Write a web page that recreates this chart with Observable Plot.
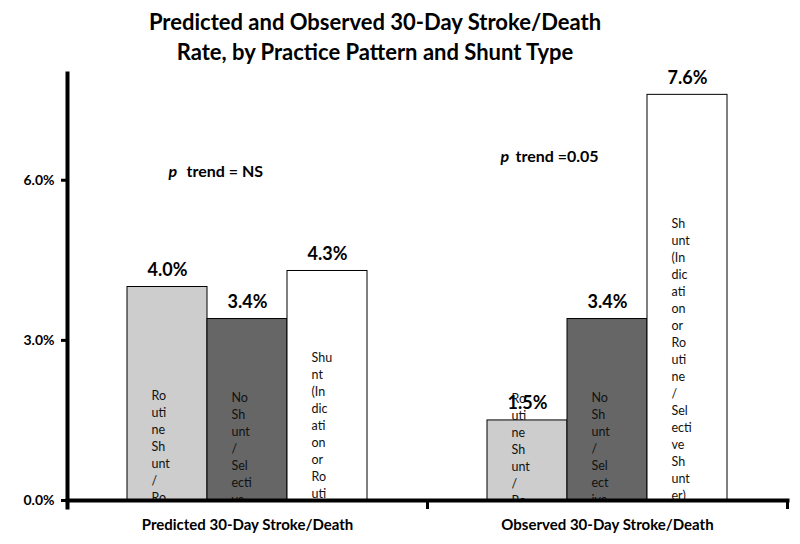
<!DOCTYPE html>
<html>
<head>
<meta charset="utf-8">
<script src="https://cdn.jsdelivr.net/npm/d3@7"></script>
<script src="https://cdn.jsdelivr.net/npm/@observablehq/plot@0.6"></script>
<style>
  body { margin: 0; background: #fff; }
  #title { width: 750px; height: 55px; padding-top: 7px; text-align: center;
           font: bold 22px Lato, sans-serif; line-height: 30px; color: #000; }
</style>
</head>
<body>
<div id="title">Predicted and Observed 30-Day Stroke/Death<br>Rate, by Practice Pattern and Shunt Type</div>
<div id="chart"></div>
<script>
// ---- data ----
const groups = ["Predicted 30-Day Stroke/Death", "Observed 30-Day Stroke/Death"];
const series = [
  "Routine Shunt / Routine Shunter",
  "No Shunt / Selective Shunter",
  "Shunt (Indication or Routine / Selective Shunter)"
];
const predicted = [4.0, 3.4, 4.3];
const observed = [1.5, 3.4, 7.6];
const trendNotes = ["trend = NS", "trend =0.05"];
const yTicks = [0, 3, 6];
// in-bar category labels, wrapped and cut as they appear in the picture
const predictedInside = [
  ["Ro","uti","ne","Sh","unt","/","Ro"],
  ["No","Sh","unt","/","Sel","ecti","ve"],
  ["Shu","nt","(In","dic","ati","on","or","Ro","uti"]
];
const observedInside = [
  ["Ro","uti","ne","Sh","unt","/","Ro"],
  ["No","Sh","unt","/","Sel","ect","ive"],
  ["Sh","unt","(In","dic","ati","on","or","Ro","uti","ne","/","Sel","ecti","ve","Sh","unt","er)"]
];

// ---- table built for Plot ----
const valuesByGroup = [predicted, observed];
const insideByGroup = [predictedInside, observedInside];
const insideTop = [[2.1, 2.08, 2.83], [2.05, 2.08, 5.34]]; // label anchors (percent units)
const rows = groups.flatMap((g, gi) => series.map((s, si) => ({
  group: g, series: s, value: valuesByGroup[gi][si],
  inside: insideByGroup[gi][si].join("\n"), insideAt: insideTop[gi][si]
})));

const plot = Plot.plot({
  width: 800,
  height: 482,
  marginTop: 11,
  marginBottom: 44,
  marginLeft: 67,
  marginRight: 13,
  style: { fontFamily: "Lato, sans-serif", fontSize: "14px", fontWeight: "bold", background: "white", color: "black", overflow: "visible" },
  fx: { domain: groups, padding: 0, label: null },
  x: { domain: series, paddingInner: 0, paddingOuter: 0.75, axis: null },
  y: { domain: [0, 8], label: null },
  color: { domain: series, range: ["#cdcdcd", "#666666", "#ffffff"] },
  marks: [
    Plot.barY(rows, { fx: "group", x: "series", y: "value", fill: "series", stroke: "black", strokeWidth: 1 }),
    Plot.text(rows, {
      fx: "group", x: "series", y: "insideAt", text: "inside",
      lineAnchor: "top", textAnchor: "start", dx: -16,
      fontSize: 12.5, fontWeight: "normal", lineHeight: 1.36, clip: "frame", fill: "#111"
    }),
    Plot.axisY({ ticks: yTicks, tickFormat: d => d.toFixed(1) + "%", tickSize: 6, tickPadding: 7, strokeWidth: 3, label: null, fontSize: 14 }),
    Plot.axisFx({ anchor: "bottom", tickSize: 0, tickPadding: 19, label: null, fontSize: 15 }),
    Plot.frame({ facet: "super", anchor: "left", strokeWidth: 4, insetBottom: -7 }),
    Plot.frame({ facet: "super", anchor: "bottom", strokeWidth: 4 }),
    Plot.frame({ anchor: "right", strokeWidth: 3, insetTop: 427, insetBottom: -7 }),
    Plot.text(rows, {
      fx: "group", x: "series", y: "value", text: d => d.value.toFixed(1) + "%",
      dy: -17, fontSize: 18, fontWeight: "bold"
    }),
    Plot.text(["p"], { fx: () => groups[0], frameAnchor: "left", dx: 101, y: () => 6.15, text: d => d, textAnchor: "start", fontStyle: "italic", fontSize: 16 }),
    Plot.text([trendNotes[0]], { fx: () => groups[0], frameAnchor: "left", dx: 119, y: () => 6.15, text: d => d, textAnchor: "start", fontSize: 16 }),
    Plot.text(["p"], { fx: () => groups[1], frameAnchor: "left", dx: 73, y: () => 6.43, text: d => d, textAnchor: "start", fontStyle: "italic", fontSize: 16 }),
    Plot.text([trendNotes[1]], { fx: () => groups[1], frameAnchor: "left", dx: 88, y: () => 6.43, text: d => d, textAnchor: "start", fontSize: 16 })
  ]
});
document.getElementById("chart").appendChild(plot);
</script>
</body>
</html>
